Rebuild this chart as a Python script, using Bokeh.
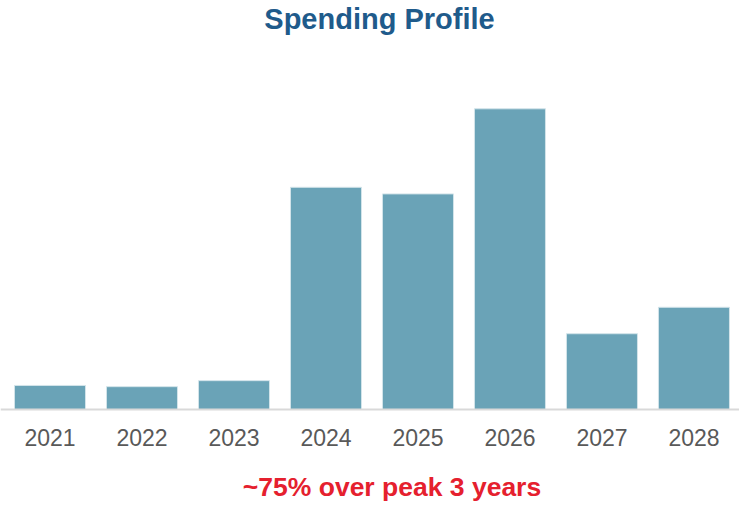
from bokeh.plotting import figure
from bokeh.models import ColumnDataSource, Label, Span, Range1d
from bokeh.core.properties import value
from bokeh.embed import file_html
from bokeh.resources import INLINE

years = ["2021", "2022", "2023", "2024", "2025", "2026", "2027", "2028"]
spending = [8.0, 7.6, 9.6, 73.9, 71.7, 100.0, 25.2, 34.0]
title_text = "Spending Profile"
note_text = "~75% over peak 3 years"

idx = list(range(len(years)))
src = ColumnDataSource(dict(x=idx, top=spending, label=years, zero=[0] * len(years)))

W, H = 739, 508
p = figure(width=W, height=H, output_backend="svg", toolbar_location=None,
           x_range=Range1d(-0.538, 7.495), y_range=Range1d(-32.92, 136.02),
           x_axis_location=None, y_axis_location=None,
           min_border=0, min_border_left=0, min_border_right=0,
           min_border_top=0, min_border_bottom=0)
p.outline_line_color = None
p.xgrid.visible = False
p.ygrid.visible = False
p.background_fill_color = "white"
p.border_fill_color = "white"

p.vbar(x="x", top="top", bottom=0, width=0.772, source=src,
       fill_color="#6aa3b7", line_color="#d3e4ea", line_width=1)

p.add_layout(Span(location=0, dimension="width", line_color="#d9d9d9", line_width=2))

p.text(x="x", y="zero", text="label", source=src, y_offset=28,
       text_align="center", text_baseline="alphabetic",
       text_font=value("Liberation Sans"), text_font_size="23px",
       text_color="#595959")

p.add_layout(Label(x=379, y=490, x_units="screen", y_units="screen",
                   text=title_text, text_align="center", text_baseline="alphabetic",
                   text_font="Liberation Sans", text_font_style="bold",
                   text_font_size="29px", text_color="#1f5b8b"))
p.add_layout(Label(x=391.5, y=22, x_units="screen", y_units="screen",
                   text=note_text, text_align="center", text_baseline="alphabetic",
                   text_font="Liberation Sans", text_font_style="bold",
                   text_font_size="26.5px", text_color="#e5202e"))

open("out.html", "w").write(file_html(p, INLINE))
